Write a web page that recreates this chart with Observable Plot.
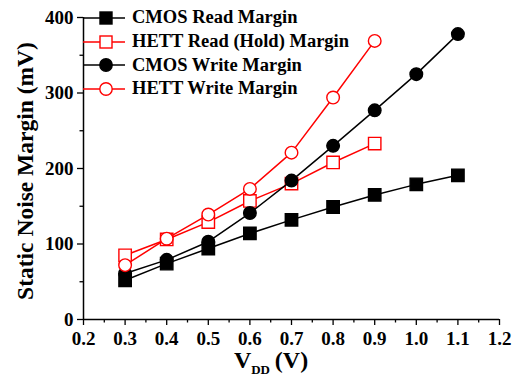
<!DOCTYPE html>
<html>
<head>
<meta charset="utf-8">
<script src="https://cdn.jsdelivr.net/npm/d3@7"></script>
<script src="https://cdn.jsdelivr.net/npm/@observablehq/plot@0.6"></script>
<style>
  html, body { margin: 0; padding: 0; background: #fff; }
  #wrap { position: relative; width: 513px; height: 378px; }
  #legend { position: absolute; left: 83px; top: 6px; font-family: "Liberation Serif", "Times New Roman", serif; font-weight: bold; font-size: 18.5px; color: #000; }
  .row { display: flex; align-items: center; height: 23.7px; white-space: nowrap; }
  .row svg { display: block; margin-right: 7px; }
</style>
</head>
<body>
<div id="wrap"></div>
<script>
// ---- data ----
const vdd = [0.3, 0.4, 0.5, 0.6, 0.7, 0.8, 0.9, 1.0, 1.1];
const cmosRead = [52, 74, 94, 114, 132, 149, 165, 179, 191];
const hettRead = [85, 106, 129, 157, 180, 208, 233];
const cmosWrite = [61, 79, 103, 141, 184, 230, 277, 325, 378];
const hettWrite = [72, 107, 139, 173, 221, 294, 369];
const seriesNames = ["CMOS Read Margin", "HETT Read (Hold) Margin", "CMOS Write Margin", "HETT Write Margin"];
const xTicks = [0.2, 0.3, 0.4, 0.5, 0.6, 0.7, 0.8, 0.9, 1.0, 1.1, 1.2];
const xMinor = [0.25, 0.35, 0.45, 0.55, 0.65, 0.75, 0.85, 0.95, 1.05, 1.15];
const yTicks = [0, 100, 200, 300, 400];
const yMinor = [50, 150, 250, 350];

const styles = [
  {stroke: "#000", fill: "#000", symbol: "square"},
  {stroke: "#ff0000", fill: "#fff", symbol: "square"},
  {stroke: "#000", fill: "#000", symbol: "circle"},
  {stroke: "#ff0000", fill: "#fff", symbol: "circle"}
];
const values = [cmosRead, hettRead, cmosWrite, hettWrite];
const tables = values.map((vals, i) => vals.map((v, j) => ({x: vdd[j], y: v, series: seriesNames[i]})));

const rSquare = 7.0, rCircle = 6.3;
const marks = [];
tables.forEach((t, i) => {
  const s = styles[i];
  marks.push(Plot.line(t, {x: "x", y: "y", stroke: s.stroke, strokeWidth: 1.5}));
  marks.push(Plot.dot(t, {x: "x", y: "y", symbol: () => s.symbol, r: s.symbol === "square" ? rSquare : rCircle,
    fill: s.fill, stroke: s.stroke, strokeWidth: 1.4}));
});

const chart = Plot.plot({
  width: 513,
  height: 378,
  marginLeft: 83,
  marginRight: 14,
  marginTop: 17,
  marginBottom: 59,
  style: {fontFamily: "Liberation Serif, Times New Roman, serif", fontWeight: "bold", fontSize: "19px", background: "#fff", color: "#000"},
  x: {domain: [0.2, 1.2]},
  y: {domain: [0, 400]},
  marks: [
    Plot.axisX({ticks: xTicks, tickSize: 6, tickPadding: 6, tickFormat: d => d.toFixed(1), label: null, strokeWidth: 1.3}),
    Plot.axisX({ticks: xMinor, tickSize: 3.5, tickFormat: () => "", label: null, strokeWidth: 1.3}),
    Plot.axisY({ticks: yTicks, tickSize: 6, tickPadding: 4, tickFormat: d => String(d), label: null, strokeWidth: 1.3}),
    Plot.axisY({ticks: yMinor, tickSize: 3.5, tickFormat: () => "", label: null, strokeWidth: 1.3}),
    Plot.ruleY([0], {stroke: "#000", strokeWidth: 1.5}),
    Plot.ruleX([0.2], {stroke: "#000", strokeWidth: 1.5}),
    ...marks
  ]
});

const wrap = document.getElementById("wrap");
wrap.appendChild(chart);

// axis titles
const svg = d3.select(chart);
svg.append("text")
  .attr("transform", "translate(25,171) rotate(-90)")
  .attr("text-anchor", "middle")
  .attr("dy", "0.35em")
  .attr("font-family", "Liberation Serif, Times New Roman, serif")
  .attr("font-weight", "bold")
  .attr("font-size", 23.5)
  .attr("fill", "#000")
  .text("Static Noise Margin (mV)");

const xl = svg.append("text")
  .attr("x", 271)
  .attr("y", 368)
  .attr("text-anchor", "middle")
  .attr("font-family", "Liberation Serif, Times New Roman, serif")
  .attr("font-weight", "bold")
  .attr("font-size", 24)
  .attr("fill", "#000");
xl.append("tspan").text("V");
xl.append("tspan").attr("font-size", 13).attr("dy", 6).text("DD");
xl.append("tspan").attr("dy", -6).text("\u2009(V)");

// legend
const legend = document.createElement("div");
legend.id = "legend";
seriesNames.forEach((name, i) => {
  const s = styles[i];
  const row = document.createElement("div");
  row.className = "row";
  const ns = "http://www.w3.org/2000/svg";
  const sw = document.createElementNS(ns, "svg");
  sw.setAttribute("width", 42);
  sw.setAttribute("height", 16);
  const line = document.createElementNS(ns, "line");
  line.setAttribute("x1", 0); line.setAttribute("x2", 42);
  line.setAttribute("y1", 8); line.setAttribute("y2", 8);
  line.setAttribute("stroke", s.stroke); line.setAttribute("stroke-width", 1.5);
  sw.appendChild(line);
  let m;
  if (s.symbol === "square") {
    m = document.createElementNS(ns, "rect");
    m.setAttribute("x", 23 - 6); m.setAttribute("y", 2);
    m.setAttribute("width", 12); m.setAttribute("height", 12);
  } else {
    m = document.createElementNS(ns, "circle");
    m.setAttribute("cx", 23); m.setAttribute("cy", 8); m.setAttribute("r", 6.2);
  }
  m.setAttribute("fill", s.fill); m.setAttribute("stroke", s.stroke); m.setAttribute("stroke-width", 1.4);
  sw.appendChild(m);
  row.appendChild(sw);
  const t = document.createElement("span");
  t.textContent = name;
  row.appendChild(t);
  legend.appendChild(row);
});
wrap.appendChild(legend);
</script>
</body>
</html>
